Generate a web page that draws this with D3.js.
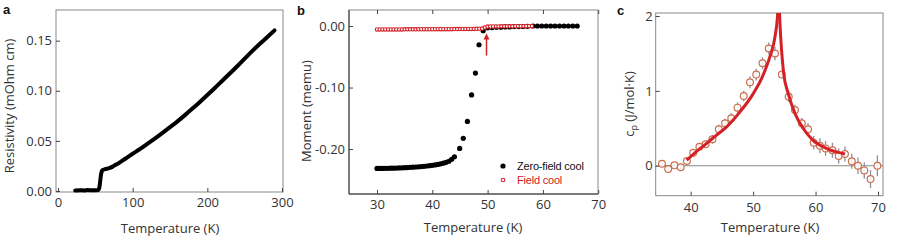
<!DOCTYPE html>
<html>
<head>
<meta charset="utf-8">
<script src="https://cdn.jsdelivr.net/npm/d3@7"></script>
<style>
body { margin: 0; background: #fff; }
svg text { font-family: "Open Sans", sans-serif; }
</style>
</head>
<body>
<svg id="fig" width="897" height="243"></svg>
<script>
// panel a - resistivity
var rhoT = [23, 30, 35, 40, 45, 50, 54, 55.5, 56.5, 57.5, 58.5, 60, 63, 67, 72, 76, 80, 90, 100, 110, 120, 130, 140, 150, 160, 170, 180, 190, 200, 210, 220, 230, 240, 250, 260, 270, 280, 290]
var rhoV = [0.0005, 0.0008, 0.0006, 0.0009, 0.0007, 0.0008, 0.001, 0.004, 0.010, 0.016, 0.0195, 0.021, 0.0218, 0.0226, 0.0238, 0.0258, 0.0272, 0.0322, 0.0372, 0.042, 0.0472, 0.0525, 0.058, 0.0637, 0.0695, 0.0757, 0.0822, 0.0889, 0.0958, 0.1028, 0.1100, 0.1172, 0.1245, 0.1320, 0.1395, 0.1466, 0.1535, 0.1603]
var aTicksX = [0, 100, 200, 300]
var aTicksY = [0, 0.05, 0.10, 0.15]

// panel b - moment
var zfcT = [30, 30.5, 31, 31.5, 32, 32.5, 33, 33.5, 34, 34.5, 35, 35.5, 36, 36.5, 37, 37.5, 38, 38.5, 39, 39.5, 40, 40.5, 41, 41.5, 42, 42.5, 43, 43.5, 44, 44.95, 45.6, 46.35, 47.1, 47.8, 48.45, 49.2, 50, 50.8, 51.6, 52.4, 53.2, 54, 54.8, 55.6, 56.4, 57.2, 58.2, 59, 59.8, 60.6, 61.4, 62.2, 63, 63.8, 64.6, 65.4, 66.2]
var zfcM = [-0.2315, -0.2315, -0.2314, -0.2313, -0.2312, -0.2311, -0.2310, -0.2308, -0.2306, -0.2304, -0.2302, -0.2300, -0.2297, -0.2294, -0.2291, -0.2288, -0.2284, -0.2280, -0.2275, -0.2270, -0.2264, -0.2257, -0.2249, -0.2240, -0.2229, -0.2215, -0.2198, -0.2165, -0.2125, -0.199, -0.1825, -0.155, -0.112, -0.0765, -0.0305, -0.0076, -0.003, -0.0025, -0.002, -0.002, -0.0015, -0.0015, -0.001, -0.001, -0.0008, -0.0005, 0, 0, 0, 0, 0, 0, 0, 0, 0, 0, 0]
var fcT = [30, 30.5, 31, 31.5, 32, 32.5, 33, 33.5, 34, 34.5, 35, 35.5, 36, 36.5, 37, 37.5, 38, 38.5, 39, 39.5, 40, 40.5, 41, 41.5, 42, 42.5, 43, 43.5, 44, 44.5, 45, 45.5, 46, 46.5, 47, 47.5, 48, 48.5, 49, 49.5, 50, 50.5, 51, 51.5, 52, 52.5, 53, 53.5, 54, 54.5, 55, 55.5, 56, 56.5, 57, 57.5, 58]
var fcM = [-0.0055, -0.0055, -0.0055, -0.0055, -0.0055, -0.0055, -0.0055, -0.0055, -0.0055, -0.0055, -0.0054, -0.0054, -0.0054, -0.0054, -0.0054, -0.0054, -0.0053, -0.0053, -0.0053, -0.0053, -0.0053, -0.0052, -0.0052, -0.0052, -0.0052, -0.0051, -0.0051, -0.0051, -0.0050, -0.0050, -0.0050, -0.0049, -0.0049, -0.0048, -0.0048, -0.0047, -0.0046, -0.0045, -0.0042, -0.0025, -0.0010, -0.0008, -0.0008, -0.0007, -0.0007, -0.0006, -0.0006, -0.0005, -0.0005, -0.0005, -0.0004, -0.0004, -0.0004, -0.0003, -0.0003, -0.0003, -0.0003]
var bTicksX = [30, 40, 50, 60, 70]
var bTicksY = [0, -0.10, -0.20]
var arrowT = 49.8, arrowFrom = -0.048, arrowTo = -0.012
var legendNames = ["Zero-field cool", "Field cool"]

// panel c - heat capacity
var cpT = [35.4, 36.4, 37.4, 38.4, 39.4, 40.4, 41.4, 42.4, 43.5, 44.5, 45.5, 46.5, 47.5, 48.5, 49.5, 50.5, 51.5, 52.5, 53.5, 54.6, 55.7, 56.7, 57.8, 58.8, 59.7, 60.7, 61.6, 62.7, 63.7, 64.7, 65.8, 66.8, 67.8, 68.8, 69.9]
var cpV = [0.027, -0.044, 0.005, -0.02, 0.063, 0.174, 0.254, 0.286, 0.353, 0.486, 0.567, 0.634, 0.776, 0.932, 1.115, 1.217, 1.369, 1.565, 1.50, 1.217, 0.922, 0.745, 0.567, 0.486, 0.308, 0.267, 0.232, 0.206, 0.13, 0.156, 0.059, 0.0, -0.062, -0.178, 0.0]
var cpErr = [0.03, 0.03, 0.03, 0.03, 0.04, 0.05, 0.05, 0.05, 0.06, 0.06, 0.06, 0.07, 0.07, 0.07, 0.08, 0.08, 0.08, 0.08, 0.09, 0.05, 0.07, 0.07, 0.07, 0.08, 0.09, 0.10, 0.10, 0.10, 0.10, 0.10, 0.10, 0.11, 0.11, 0.12, 0.14]
var fitLowT = [39.36, 40.5, 42.56, 44, 45.76, 47.9, 50.0, 51.6, 52.7, 53.5, 53.9, 54.05]
var fitLowV = [0.076, 0.16, 0.30, 0.40, 0.52, 0.72, 0.96, 1.21, 1.46, 1.72, 1.99, 2.2]
var fitHighT = [54.15, 54.3, 54.55, 54.9, 55.6, 56.7, 58.0, 59.6, 61.8, 64.5, 64.7]
var fitHighV = [2.2, 1.9, 1.55, 1.23, 0.97, 0.70, 0.50, 0.34, 0.23, 0.16, 0.155]
var cTicksX = [40, 50, 60, 70]
var cTicksY = [0, 1, 2]

var red = "#d42027"
var svg = d3.select("#fig")

function zip(a, b) {
    return a.map(function(d, i) { return [d, b[i]] })
}

function styleAxis(g) {
    g.select(".domain").remove()
    g.attr("font-family", "Open Sans, sans-serif").attr("font-size", 13)
    g.selectAll(".tick line").attr("stroke", "#444")
    g.selectAll(".tick text").attr("fill", "#333")
}

function drawFrame(x, y, col) {
    svg.append("rect")
        .attr("x", x.range()[0]).attr("y", y.range()[1])
        .attr("width", x.range()[1] - x.range()[0])
        .attr("height", y.range()[0] - y.range()[1])
        .attr("fill", "none").attr("stroke", col)
}

function yTitle(x, y, txt) {
    return svg.append("text")
        .attr("transform", "translate(" + x + "," + y + ") rotate(-90)")
        .attr("text-anchor", "middle").attr("font-size", 13).attr("fill", "#333")
        .text(txt)
}

function xTitle(x, y) {
    svg.append("text").attr("x", x).attr("y", y)
        .attr("text-anchor", "middle").attr("font-size", 13).attr("fill", "#333")
        .text("Temperature (K)")
}

function letter(x, y, t) {
    svg.append("text").attr("x", x).attr("y", y)
        .attr("font-size", 13).attr("font-weight", "bold").attr("fill", "#111")
        .style("font-family", "Liberation Sans, Arial, sans-serif")
        .text(t)
}

// ---------- a ----------
var xA = d3.scaleLinear().domain([-2.7, 301.3]).range([56, 283])
var yA = d3.scaleLinear().domain([-0.001, 0.1806]).range([192, 10])

drawFrame(xA, yA, "#888")
svg.append("g").attr("transform", "translate(0,192)")
    .call(d3.axisBottom(xA).tickValues(aTicksX).tickSize(-4).tickPadding(6)).call(styleAxis)
svg.append("g").attr("transform", "translate(56,0)")
    .call(d3.axisLeft(yA).tickValues(aTicksY).tickFormat(function(d) { return d.toFixed(2) }).tickSize(-4).tickPadding(4)).call(styleAxis)

svg.append("path")
    .datum(zip(rhoT, rhoV))
    .attr("fill", "none").attr("stroke", "#000").attr("stroke-width", 4)
    .attr("stroke-linecap", "round").attr("stroke-linejoin", "round")
    .attr("d", d3.line().x(function(d) { return xA(d[0]) }).y(function(d) { return yA(d[1]) }).curve(d3.curveMonotoneX))

yTitle(14, 106, "Resistivity (mOhm cm)")
xTitle(170, 233)
letter(3, 14, "a")

// ---------- b ----------
var xB = d3.scaleLinear().domain([24.94, 69.96]).range([349, 598])
var yB = d3.scaleLinear().domain([-0.273, 0.026]).range([194, 10])

drawFrame(xB, yB, "#888")
svg.append("line").attr("x1", 349).attr("x2", 349).attr("y1", 10).attr("y2", 194).attr("stroke", "#333")
svg.append("line").attr("x1", 349).attr("x2", 598).attr("y1", 194).attr("y2", 194).attr("stroke", "#333")
svg.append("g").attr("transform", "translate(0,194)")
    .call(d3.axisBottom(xB).tickValues(bTicksX).tickSize(-4).tickPadding(6)).call(styleAxis)
svg.append("g").attr("transform", "translate(0,10)")
    .call(d3.axisTop(xB).tickValues(bTicksX).tickSize(-4).tickFormat("")).call(styleAxis)
svg.append("g").attr("transform", "translate(349,0)")
    .call(d3.axisLeft(yB).tickValues(bTicksY).tickFormat(function(d) { return d.toFixed(2) }).tickSize(-4).tickPadding(4)).call(styleAxis)

svg.append("g").selectAll("circle")
    .data(zip(zfcT, zfcM)).join("circle")
    .attr("cx", function(d) { return xB(d[0]) }).attr("cy", function(d) { return yB(d[1]) })
    .attr("r", 2.6).attr("fill", "#000")
svg.append("g").selectAll("circle")
    .data(zip(fcT, fcM)).join("circle")
    .attr("cx", function(d) { return xB(d[0]) }).attr("cy", function(d) { return yB(d[1]) })
    .attr("r", 1.7).attr("fill", "#fff").attr("stroke", red).attr("stroke-width", 1.1)

// arrow
var ax = xB(arrowT), ay0 = yB(arrowFrom), ay1 = yB(arrowTo)
svg.append("line").attr("x1", ax).attr("x2", ax).attr("y1", ay0).attr("y2", ay1 + 4)
    .attr("stroke", red).attr("stroke-width", 1.5)
svg.append("path")
    .attr("d", "M" + ax + "," + ay1 + "L" + (ax - 3) + "," + (ay1 + 6) + "L" + (ax + 3) + "," + (ay1 + 6) + "Z")
    .attr("fill", red)

// legend
var leg = svg.append("g").attr("transform", "translate(503,166)")
leg.append("circle").attr("r", 2.6).attr("fill", "#000")
leg.append("circle").attr("cy", 14).attr("r", 1.8).attr("fill", "#fff").attr("stroke", red).attr("stroke-width", 1.1)
leg.selectAll("text").data(legendNames).join("text")
    .attr("x", 14).attr("y", function(d, i) { return i * 14 + 4 })
    .attr("font-size", 11).attr("letter-spacing", -0.2)
    .style("font-family", "Liberation Sans, Arial, sans-serif")
    .attr("fill", function(d, i) { return i ? red : "#111" })
    .text(function(d) { return d })

yTitle(311, 111, "Moment (memu)")
xTitle(473, 232)
letter(297, 15, "b")

// ---------- c ----------
var xC = d3.scaleLinear().domain([34.4, 70.8]).range([655.7, 883])
var yC = d3.scaleLinear().domain([-0.40, 2.04]).range([195.7, 13])

drawFrame(xC, yC, "#888")
svg.append("g").attr("transform", "translate(0,195.7)")
    .call(d3.axisBottom(xC).tickValues(cTicksX).tickSize(-4).tickPadding(7)).call(styleAxis)
svg.append("g").attr("transform", "translate(655.7,0)")
    .call(d3.axisLeft(yC).tickValues(cTicksY).tickFormat(function(d) { return String(d) }).tickSize(-4).tickPadding(3)).call(styleAxis)

svg.append("line").attr("x1", 655.7).attr("x2", 883).attr("y1", yC(0)).attr("y2", yC(0))
    .attr("stroke", "#888").attr("stroke-width", 1.2)

svg.append("defs").append("clipPath").attr("id", "clipC")
    .append("rect").attr("x", 655.7).attr("y", 13).attr("width", 883 - 655.7).attr("height", 195.7 - 13)

var pts = cpT.map(function(t, i) { return { t: t, v: cpV[i], e: cpErr[i] } })
svg.append("g").selectAll("line")
    .data(pts).join("line")
    .attr("x1", function(d) { return xC(d.t) }).attr("x2", function(d) { return xC(d.t) })
    .attr("y1", function(d) { return yC(d.v - d.e) }).attr("y2", function(d) { return yC(d.v + d.e) })
    .attr("stroke", "#8e8ea4").attr("stroke-width", 1.3)
svg.append("g").selectAll("circle")
    .data(pts).join("circle")
    .attr("cx", function(d) { return xC(d.t) }).attr("cy", function(d) { return yC(d.v) })
    .attr("r", 3.4).attr("fill", "#fff").attr("fill-opacity", 0.85)
    .attr("stroke", "#c9704f").attr("stroke-width", 1.2)

var fitLine = d3.line().x(function(d) { return xC(d[0]) }).y(function(d) { return yC(d[1]) }).curve(d3.curveMonotoneX)
var fits = svg.append("g").attr("clip-path", "url(#clipC)")
fits.selectAll("path").data([zip(fitLowT, fitLowV), zip(fitHighT, fitHighV)]).join("path")
    .attr("fill", "none").attr("stroke", red).attr("stroke-width", 3)
    .attr("d", fitLine)

var ct = yTitle(634, 104, "")
ct.append("tspan").text("c")
ct.append("tspan").attr("font-size", 9).attr("dy", 3).text("p")
ct.append("tspan").attr("dy", -3).text(" (J/mol\u00b7K)")
xTitle(770, 232)
letter(617, 15, "c")
</script>
</body>
</html>
